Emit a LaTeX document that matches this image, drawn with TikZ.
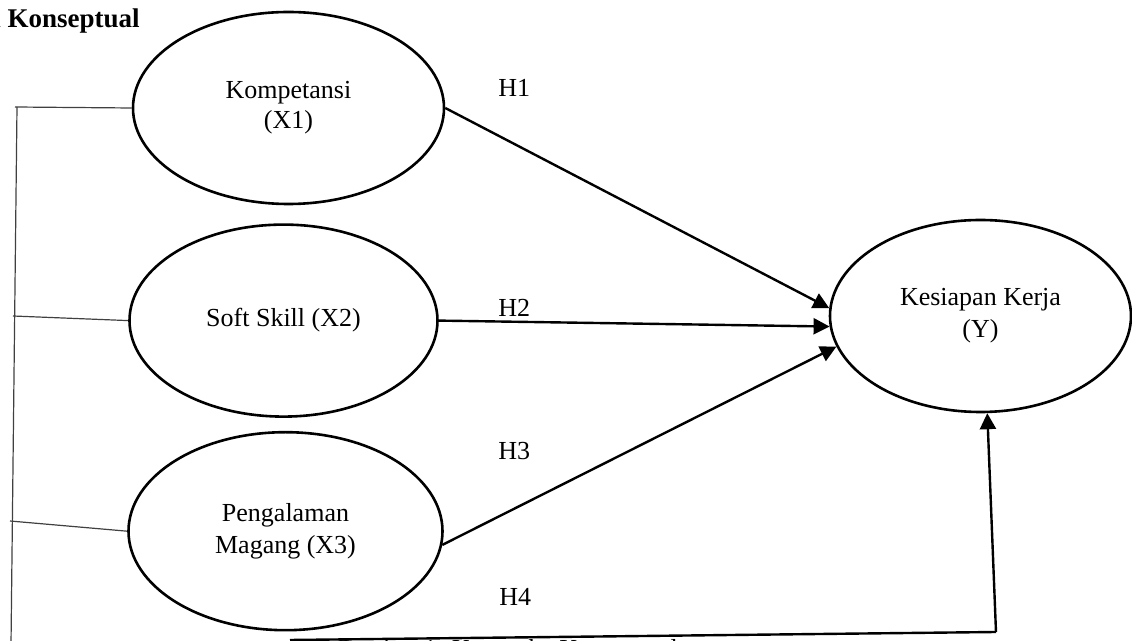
\documentclass[tikz,border=0pt]{standalone}
\usepackage{fontspec}
\setmainfont{Liberation Serif}
\usetikzlibrary{shapes,positioning,arrows.meta}

\begin{document}
\begin{tikzpicture}[x=0.5pt,y=-0.5pt,
    font=\fontsize{13}{15}\selectfont,
    variabel/.style={draw, ellipse, line width=1.3pt, inner sep=0, align=center},
    panah/.style={line width=1.2pt, -{Triangle[length=8pt,width=8pt]}},
    garis/.style={line width=0.6pt, black!75}]
\useasboundingbox (0,0) rectangle (1132,641);
\clip (0,0) rectangle (1132,641);

% Judul
\node[font=\fontsize{13.5}{15}\selectfont\bfseries,
    anchor=base east, inner sep=0
] (judul) at (140,28) {Kerangka Konseptual};

% Variabel bebas
\node[variabel,
    minimum width=155.5pt,
    minimum height=96pt
] (X1) at (288.5,108) {Kompetansi\\(X1)};

\node[variabel,
    minimum width=154pt,
    minimum height=96pt,
    below= 9pt of X1, xshift=-2.5pt
] (X2) {Soft Skill (X2)};

\node[variabel,
    minimum width=157pt,
    minimum height=99pt,
    below= 6.5pt of X2, xshift=1pt
] (X3) {Pengalaman\\[1pt]Magang (X3)};

% Variabel terikat
\node[variabel,
    minimum width=150.5pt,
    minimum height=96pt
] (Y) at (980.5,316) {Kesiapan Kerja\\[1pt](Y)};

% Label hipotesis
\node[anchor=base west, inner sep=0] (h1) at (498,97) {H1};
\node[anchor=base west, inner sep=0] (h2) at (498,317) {H2};
\node[anchor=base west, inner sep=0] (h3) at (498,460) {H3};
\node[anchor=base west, inner sep=0] (h4) at (499,606) {H4};

% Keterangan gambar
\node[anchor=base west, inner sep=0] (keterangan) at (333,658) {Gambar 1. Kerangka Konseptual};

% Garis kiri
\coordinate (k1) at (15,107);
\coordinate (k2) at (13,316);
\coordinate (k3) at (10,521);
\coordinate (katas) at (17,107);
\coordinate (kbawah) at (11,645);
\draw[garis] (katas) -- (kbawah);
\draw[garis]
    (k1) edge (X1.west)
    (k2) edge (X2.west)
    (k3) edge (X3.west);

% Panah
\draw[panah] (X1.east) -- (Y.177);
\draw[panah] (X2.east) -- (Y.184);
\draw[panah] (X3.-5.5) -- (Y.192);

\coordinate (h4awal) at (290,640);
\coordinate (h4sudut) at (996,632);
\draw[line width=1.2pt] (h4awal) -- (h4sudut);
\draw[panah] (h4sudut) -- (Y.274);

\end{tikzpicture}
\end{document}
